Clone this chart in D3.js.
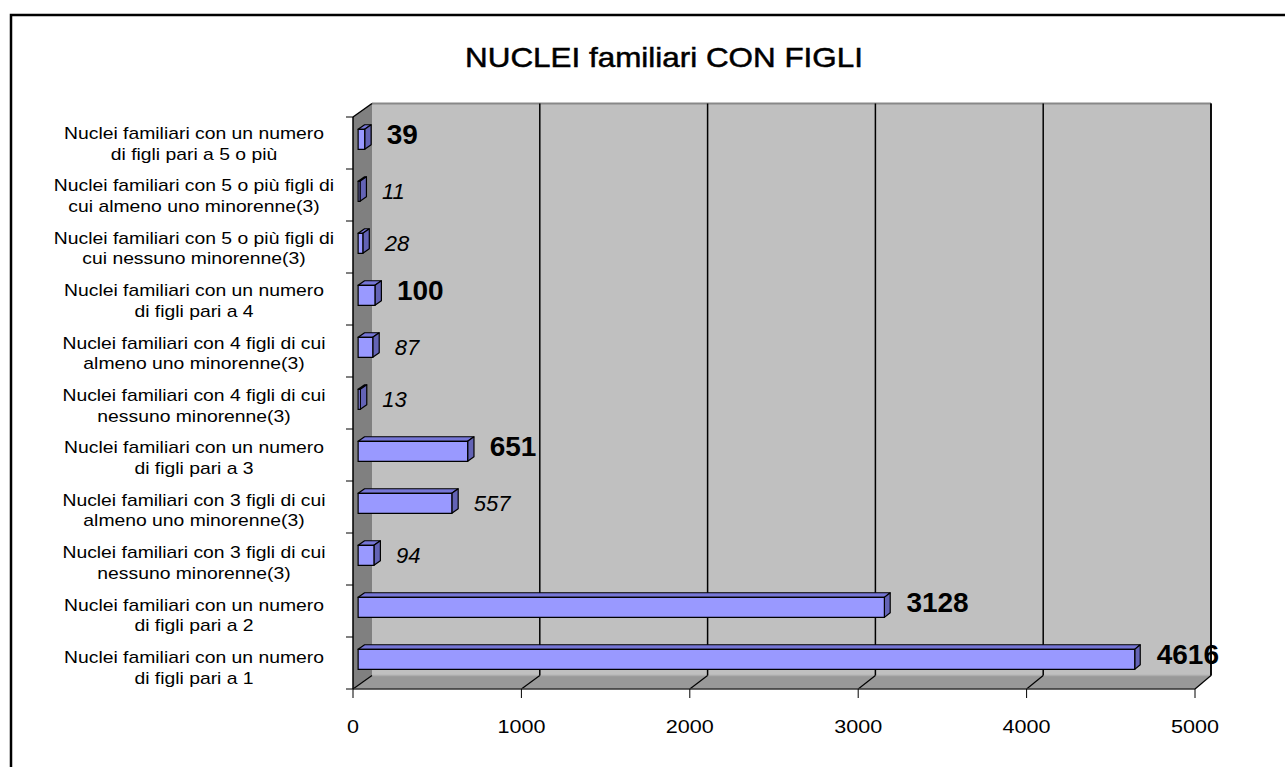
<!DOCTYPE html>
<html><head><meta charset="utf-8">
<script src="https://cdn.jsdelivr.net/npm/d3@7"></script>
<style>body{margin:0;background:#fff;} svg{display:block;}</style>
</head><body>
<svg id="chart" width="1285" height="767"></svg>
<script>
const title = "NUCLEI familiari CON FIGLI";
const categories = [
 "Nuclei familiari con un numero\ndi figli pari a 5 o più",
 "Nuclei familiari con 5 o più figli di\ncui almeno uno minorenne(3)",
 "Nuclei familiari con 5 o più figli di\ncui nessuno minorenne(3)",
 "Nuclei familiari con un numero\ndi figli pari a 4",
 "Nuclei familiari con 4 figli di cui\nalmeno uno minorenne(3)",
 "Nuclei familiari con 4 figli di cui\nnessuno minorenne(3)",
 "Nuclei familiari con un numero\ndi figli pari a 3",
 "Nuclei familiari con 3 figli di cui\nalmeno uno minorenne(3)",
 "Nuclei familiari con 3 figli di cui\nnessuno minorenne(3)",
 "Nuclei familiari con un numero\ndi figli pari a 2",
 "Nuclei familiari con un numero\ndi figli pari a 1"
];
const values = [39, 11, 28, 100, 87, 13, 651, 557, 94, 3128, 4616];
const xTicks = [0, 1000, 2000, 3000, 4000, 5000];

const svg = d3.select("#chart");
const FONT = "'Liberation Sans', Arial, sans-serif";

// 3D geometry
const xF = d3.scaleLinear().domain([0, 5000]).range([353, 1195]);
const xB = d3.scaleLinear().domain([0, 5000]).range([372, 1211]);
const y = d3.scaleBand().domain(categories).range([117, 689]);
const yLab = d3.scalePoint().domain(categories).range([139, 663]);
const DY = 13.5;
const P = (v, yy, d) => [xF(v) * (1 - d) + xB(v) * d, yy - d * DY];
const poly = pts => pts.map(p => p.join(",")).join(" ");
const vmax = xF.domain()[1];
const yTop = y.range()[0], yBot = y.range()[1];

// outer border
svg.append("rect").attr("x", 11).attr("y", 15).attr("width", 1300).attr("height", 800)
  .attr("fill", "none").attr("stroke", "#000").attr("stroke-width", 2.5);

function fitText(sel, target) {
  const w = sel.node().getComputedTextLength();
  return target / w;
}
// title
const tt = svg.append("text").attr("font-family", FONT).attr("font-size", 28)
  .attr("text-anchor", "middle").attr("stroke", "#000").attr("stroke-width", 0.5).text(title);
const ts = fitText(tt, 398);
tt.attr("transform", `translate(664,67) scale(${ts},1)`);

// walls
svg.append("polygon").attr("points", poly([P(0,yTop,1),P(vmax,yTop,1),P(vmax,yBot,1),P(0,yBot,1)]))
  .attr("fill", "#c0c0c0");
svg.append("polygon").attr("points", poly([P(0,yTop,0),P(0,yTop,1),P(0,yBot,1),P(0,yBot,0)]))
  .attr("fill", "#808080");
svg.append("polygon").attr("points", poly([P(0,yBot,0),P(vmax,yBot,0),P(vmax,yBot,1),P(0,yBot,1)]))
  .attr("fill", "#999999");
svg.append("line").attr("x1", P(0,yTop,1)[0]).attr("y1", P(0,yTop,1)[1])
  .attr("x2", P(vmax,yTop,1)[0]).attr("y2", P(vmax,yTop,1)[1])
  .attr("stroke", "#888").attr("stroke-width", 2);
svg.append("line").attr("x1", P(0,yBot,1)[0]).attr("y1", P(0,yBot,1)[1])
  .attr("x2", P(vmax,yBot,1)[0]).attr("y2", P(vmax,yBot,1)[1])
  .attr("stroke", "#adadad").attr("stroke-width", 1.5);

// gridlines on back wall
svg.append("g").selectAll("line").data(xTicks.slice(1)).join("line")
  .attr("x1", d => P(d,yTop,1)[0]).attr("y1", d => P(d,yTop,1)[1])
  .attr("x2", d => P(d,yBot,1)[0]).attr("y2", d => P(d,yBot,1)[1])
  .attr("stroke", "#000").attr("stroke-width", 1.5);
// floor diagonals
svg.append("g").selectAll("line").data(xTicks).join("line")
  .attr("x1", d => P(d,yBot,0)[0]).attr("y1", d => P(d,yBot,0)[1])
  .attr("x2", d => P(d,yBot,1)[0]).attr("y2", d => P(d,yBot,1)[1])
  .attr("stroke", "#000").attr("stroke-width", 1.2);
svg.append("line").attr("x1", P(0,yBot,0)[0]).attr("y1", yBot).attr("x2", P(vmax,yBot,0)[0]).attr("y2", yBot)
  .attr("stroke", "#333").attr("stroke-width", 1.5);
svg.append("line").attr("x1", P(0,yTop,0)[0]).attr("y1", P(0,yTop,0)[1]).attr("x2", P(0,yBot,0)[0]).attr("y2", P(0,yBot,0)[1])
  .attr("stroke", "#000").attr("stroke-width", 1.5);
svg.append("line").attr("x1", P(0,yTop,0)[0]).attr("y1", P(0,yTop,0)[1]).attr("x2", P(0,yTop,1)[0]).attr("y2", P(0,yTop,1)[1])
  .attr("stroke", "#000").attr("stroke-width", 1.5);
svg.append("line").attr("x1", P(vmax,yTop,1)[0]).attr("y1", P(vmax,yTop,1)[1]).attr("x2", P(vmax,yBot,1)[0]).attr("y2", P(vmax,yBot,1)[1])
  .attr("stroke", "#000").attr("stroke-width", 1.5);

// y ticks
const yTickPos = categories.map(c => y(c)).concat([yBot]);
svg.append("g").selectAll("line").data(yTickPos).join("line")
  .attr("x1", xF(0) - 7).attr("x2", xF(0)).attr("y1", d => d).attr("y2", d => d)
  .attr("stroke", "#000").attr("stroke-width", 1);
// x ticks
svg.append("g").selectAll("line").data(xTicks).join("line")
  .attr("x1", d => xF(d)).attr("x2", d => xF(d)).attr("y1", yBot).attr("y2", yBot + 9)
  .attr("stroke", "#000").attr("stroke-width", 1);

// x tick labels
const probe = svg.append("text").attr("font-family", FONT).attr("font-size", 19).text("1000");
const xs = fitText(probe, 48); probe.remove();
svg.append("g").selectAll("text").data(xTicks).join("text")
  .attr("font-family", FONT).attr("font-size", 19).attr("text-anchor", "middle")
  .attr("transform", d => `translate(${xF(d)},733) scale(${xs},1)`)
  .text(d => d);

// bars
const d0 = 0.27, d1 = 0.61, hh = 10;
const bars = svg.append("g").selectAll("g").data(categories.map((c, i) => ({c, v: values[i]}))).join("g");
bars.each(function(d) {
  const g = d3.select(this);
  const yc = y(d.c) + y.bandwidth() / 2;
  const a = yc - hh, b = yc + hh;
  g.append("polygon").attr("points", poly([P(0,a,d0),P(d.v,a,d0),P(d.v,a,d1),P(0,a,d1)]))
    .attr("fill", "#7676d6").attr("stroke", "#000").attr("stroke-width", 1.2).attr("stroke-linejoin", "round");
  g.append("polygon").attr("points", poly([P(d.v,a,d0),P(d.v,b,d0),P(d.v,b,d1),P(d.v,a,d1)]))
    .attr("fill", "#6363b5").attr("stroke", "#000").attr("stroke-width", 1.2).attr("stroke-linejoin", "round");
  g.append("polygon").attr("points", poly([P(0,a,d0),P(d.v,a,d0),P(d.v,b,d0),P(0,b,d0)]))
    .attr("fill", "#9999ff").attr("stroke", "#000").attr("stroke-width", 1.2);
  const isTotal = d.c.indexOf("un numero") >= 0;
  const fs = isTotal ? 28 : 22;
  const lx = P(d.v, yc, d0)[0] + 22;
  const ly = P(d.v, yc, d0)[1] + (isTotal ? -5 : 0) + fs * 0.36;
  g.append("text").attr("x", lx).attr("y", ly)
    .attr("font-family", FONT).attr("font-size", fs)
    .attr("font-weight", isTotal ? "bold" : "normal")
    .attr("font-style", isTotal ? "normal" : "italic")
    .attr("fill", "#000").text(d.v);
});

// category labels
const lp = svg.append("text").attr("font-family", FONT).attr("font-size", 16).text("Nuclei familiari con un numero");
const ls = fitText(lp, 260); lp.remove();
const lab = svg.append("g").selectAll("g").data(categories).join("g");
lab.each(function(c) {
  const g = d3.select(this);
  c.split("\n").forEach((line, k) => {
    g.append("text").attr("font-family", FONT).attr("font-size", 16).attr("text-anchor", "middle")
      .attr("transform", `translate(194,${yLab(c) + k * 20.5}) scale(${ls},1)`)
      .text(line);
  });
});
</script>
</body></html>
